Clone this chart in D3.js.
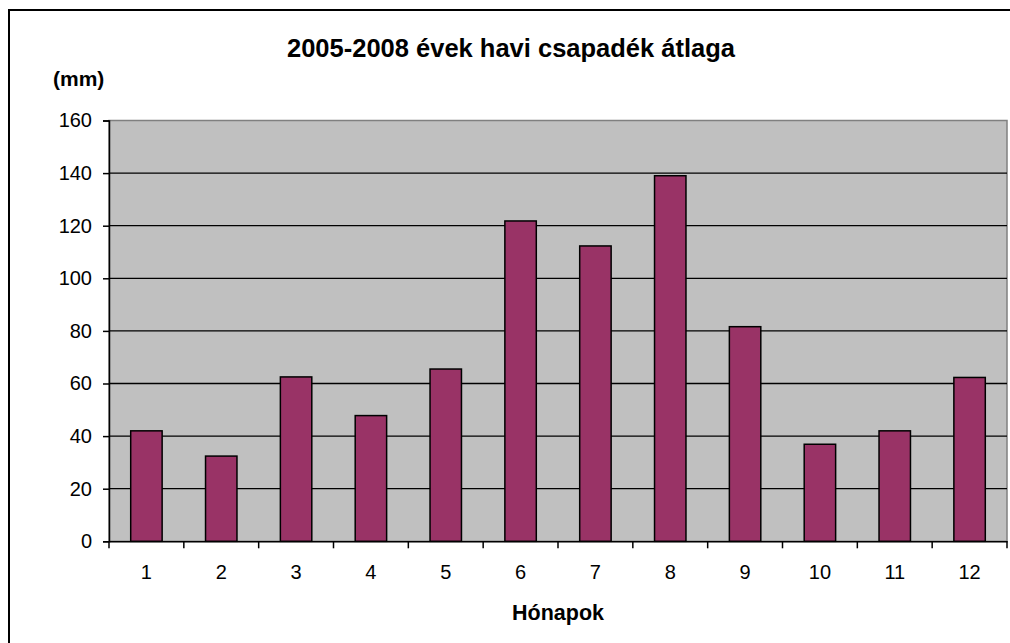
<!DOCTYPE html>
<html>
<head>
<meta charset="utf-8">
<script src="https://cdn.jsdelivr.net/npm/d3@7"></script>
<style>
  body { margin: 0; background: #fff; }
  svg { display: block; font-family: Arial, "Liberation Sans", sans-serif; }
</style>
</head>
<body>
<div id="chart"></div>
<script>
// Monthly precipitation averages 2005-2008
var months = ["1", "2", "3", "4", "5", "6", "7", "8", "9", "10", "11", "12"];
var rainfall = [42, 32.4, 62.5, 47.8, 65.5, 121.8, 112.3, 139, 81.6, 36.9, 42, 62.3];
var yTicks = [0, 20, 40, 60, 80, 100, 120, 140, 160];

var titleText = "2005-2008 évek havi csapadék átlaga";
var yTitle = "(mm)";
var xTitle = "Hónapok";

var W = 1010, H = 643;
var margin = { top: 120.5, right: 3, bottom: 101.7, left: 109 };
var width = W - margin.left - margin.right;
var height = H - margin.top - margin.bottom;

var root = d3.select("#chart").append("svg")
    .attr("width", W)
    .attr("height", H);

// chart frame (runs past the right and bottom edges)
root.append("rect")
    .attr("x", 9).attr("y", 10)
    .attr("width", W + 20).attr("height", H + 20)
    .attr("fill", "#fff")
    .attr("stroke", "#000")
    .attr("stroke-width", 2);

var svg = root.append("g")
    .attr("transform", "translate(" + margin.left + "," + margin.top + ")");

var x = d3.scaleBand().domain(months).range([0, width])
    .paddingInner(0.58).paddingOuter(0.29);
var y = d3.scaleLinear().domain([0, 160]).range([height, 0]);

// plot area
svg.append("rect")
    .attr("width", width).attr("height", height)
    .attr("fill", "#c0c0c0")
    .attr("stroke", "#808080")
    .attr("stroke-width", 1.5);

// gridlines
svg.append("g")
    .selectAll("line")
    .data(yTicks.filter(function (d) { return d > 0 && d < 160; }))
    .enter().append("line")
    .attr("x1", 0).attr("x2", width)
    .attr("y1", function (d) { return y(d); })
    .attr("y2", function (d) { return y(d); })
    .attr("stroke", "#000")
    .attr("stroke-width", 1.3);

// bars
svg.append("g")
    .selectAll("rect")
    .data(rainfall)
    .enter().append("rect")
    .attr("x", function (d, i) { return x(months[i]); })
    .attr("y", function (d) { return y(d); })
    .attr("width", x.bandwidth())
    .attr("height", function (d) { return height - y(d); })
    .attr("fill", "#993366")
    .attr("stroke", "#000")
    .attr("stroke-width", 1.5);

// y axis
var yAxis = svg.append("g")
    .call(d3.axisLeft(y).tickValues(yTicks).tickSize(6).tickPadding(11));
yAxis.select(".domain").attr("stroke", "#000").attr("stroke-width", 1.5);
yAxis.selectAll(".tick line").attr("stroke-width", 1.5);
yAxis.selectAll("text").attr("font-size", "20px").attr("fill", "#000")
    .attr("font-family", "Arial, 'Liberation Sans', sans-serif");

// x axis: ticks between categories
var xAxis = svg.append("g")
    .attr("transform", "translate(0," + height + ")")
    .call(d3.axisBottom(x).tickSize(0).tickPadding(24));
xAxis.select(".domain").attr("stroke", "#000").attr("stroke-width", 1.5);
xAxis.selectAll("text").attr("font-size", "20px").attr("fill", "#000")
    .attr("font-family", "Arial, 'Liberation Sans', sans-serif");

var step = x.step();
xAxis.append("g")
    .selectAll("line")
    .data(d3.range(months.length + 1))
    .enter().append("line")
    .attr("x1", function (i) { return i * step; })
    .attr("x2", function (i) { return i * step; })
    .attr("y1", 0).attr("y2", 7)
    .attr("stroke", "#000")
    .attr("stroke-width", 1.5);

// titles
root.append("text")
    .attr("x", 511).attr("y", 57)
    .attr("text-anchor", "middle")
    .attr("font-size", "25.5px")
    .attr("font-weight", "bold")
    .text(titleText);

root.append("text")
    .attr("x", 53).attr("y", 86)
    .attr("font-size", "21px")
    .attr("font-weight", "bold")
    .text(yTitle);

root.append("text")
    .attr("x", margin.left + width / 2).attr("y", 620)
    .attr("text-anchor", "middle")
    .attr("font-size", "21.5px")
    .attr("font-weight", "bold")
    .text(xTitle);
</script>
</body>
</html>
